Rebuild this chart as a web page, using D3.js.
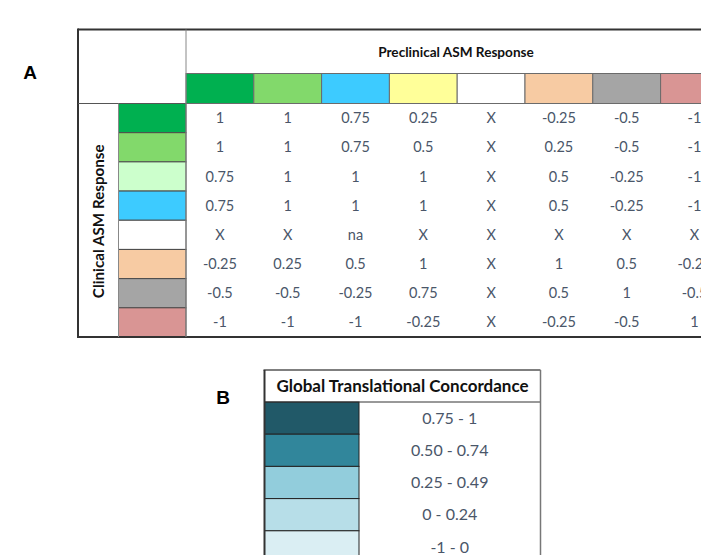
<!DOCTYPE html>
<html>
<head>
<meta charset="utf-8">
<script src="https://cdn.jsdelivr.net/npm/d3@7"></script>
<style>
  body { margin: 0; background: #fff; }
  svg { display: block; }
</style>
</head>
<body>
<div id="chart"></div>
<script>
// header swatches (preclinical, across) and row swatches (clinical, down)
const preclinColors = ["#00B050", "#82D96B", "#3DCBFF", "#FFFF99", "#FFFFFF", "#F7CBA3", "#A5A5A5", "#D99594"];
const clinColors = ["#00B050", "#82D96B", "#CCFFCC", "#3DCBFF", "#FFFFFF", "#F7CBA3", "#A5A5A5", "#D99594"];

// concordance scores, one array per clinical row
const row1 = ["1", "1", "0.75", "0.25", "X", "-0.25", "-0.5", "-1"];
const row2 = ["1", "1", "0.75", "0.5", "X", "0.25", "-0.5", "-1"];
const row3 = ["0.75", "1", "1", "1", "X", "0.5", "-0.25", "-1"];
const row4 = ["0.75", "1", "1", "1", "X", "0.5", "-0.25", "-1"];
const row5 = ["X", "X", "na", "X", "X", "X", "X", "X"];
const row6 = ["-0.25", "0.25", "0.5", "1", "X", "1", "0.5", "-0.25"];
const row7 = ["-0.5", "-0.5", "-0.25", "0.75", "X", "0.5", "1", "-0.5"];
const row8 = ["-1", "-1", "-1", "-0.25", "X", "-0.25", "-0.5", "1"];
const rows = [row1, row2, row3, row4, row5, row6, row7, row8];

// legend B
const legendRanges = ["0.75 - 1", "0.50 - 0.74", "0.25 - 0.49", "0 - 0.24", "-1 - 0"];
const legendColors = ["#215968", "#31869B", "#92CDDC", "#B7DEE8", "#DAEEF3"];

const W = 701, H = 555;
const textCol = "#4A5669";
const font = "Lato, 'Open Sans', sans-serif";

const svg = d3.select("#chart").append("svg")
  .attr("width", W).attr("height", H)
  .style("font-family", font);

// ---- panel A ----
const tLeft = 78, tTop = 29.5, rowLabX = 118.5, gridX = 186;
const hdrTop = 73.5, gridTop = 103.5, gridBottom = 337;
const colW = 67.8;

const x = d3.scaleBand().domain(d3.range(preclinColors.length))
  .range([gridX, gridX + colW * preclinColors.length]);
const y = d3.scaleBand().domain(d3.range(rows.length))
  .range([gridTop, gridBottom]);

svg.append("text").attr("x", 30).attr("y", 79)
  .attr("text-anchor", "middle")
  .style("font-family", "Arial, 'Liberation Sans', sans-serif")
  .style("font-weight", "bold").style("font-size", "19px").text("A");

// header swatches
svg.append("g").selectAll("rect").data(preclinColors).join("rect")
  .attr("x", (d, i) => x(i)).attr("y", hdrTop)
  .attr("width", x.bandwidth()).attr("height", gridTop - hdrTop)
  .attr("fill", d => d).attr("stroke", "#6b6b6b").attr("stroke-width", 1);

// row swatches
svg.append("g").selectAll("rect").data(clinColors).join("rect")
  .attr("x", rowLabX).attr("y", (d, i) => y(i))
  .attr("width", gridX - rowLabX).attr("height", y.bandwidth())
  .attr("fill", d => d).attr("stroke", "#4a4a4a").attr("stroke-width", 1);

// table lines
const lines = svg.append("g").attr("fill", "none");
lines.append("line").attr("x1", tLeft).attr("x2", W).attr("y1", tTop).attr("y2", tTop)
  .attr("stroke", "#333").attr("stroke-width", 2);
lines.append("line").attr("x1", tLeft).attr("x2", W).attr("y1", gridBottom).attr("y2", gridBottom)
  .attr("stroke", "#333").attr("stroke-width", 2);
lines.append("line").attr("x1", tLeft).attr("x2", tLeft).attr("y1", tTop - 1).attr("y2", gridBottom + 1)
  .attr("stroke", "#333").attr("stroke-width", 2);
lines.append("line").attr("x1", tLeft).attr("x2", gridX).attr("y1", gridTop).attr("y2", gridTop)
  .attr("stroke", "#555").attr("stroke-width", 1);
lines.append("line").attr("x1", gridX).attr("x2", gridX).attr("y1", tTop).attr("y2", gridBottom)
  .attr("stroke", "#888").attr("stroke-width", 1);
lines.append("line").attr("x1", rowLabX).attr("x2", rowLabX).attr("y1", gridTop).attr("y2", gridBottom)
  .attr("stroke", "#888").attr("stroke-width", 1);

svg.append("text").attr("x", 456).attr("y", 57)
  .attr("text-anchor", "middle").style("font-weight", "bold")
  .style("font-size", "13.6px").attr("fill", "#111")
  .text("Preclinical ASM Response");

svg.append("text")
  .attr("transform", `translate(${(tLeft + rowLabX) / 2 + 6},${(gridTop + gridBottom) / 2 + 1}) rotate(-90)`)
  .attr("text-anchor", "middle").style("font-weight", "bold")
  .style("font-size", "15.2px").attr("fill", "#111")
  .text("Clinical ASM Response");

// cell values
const cells = svg.append("g").selectAll("g").data(rows).join("g")
  .attr("transform", (d, i) => `translate(0,${y(i) + y.bandwidth() / 2})`);
cells.selectAll("text").data(d => d).join("text")
  .attr("x", (d, j) => x(j) + x.bandwidth() / 2)
  .attr("dy", "0.35em")
  .attr("text-anchor", "middle")
  .attr("fill", textCol).style("font-size", "14.5px")
  .text(d => d);

// ---- panel B ----
const lgLeft = 264.5, lgRight = 540.5, lgTop = 370, lgHdr = 402, lgSwR = 359, lgRowH = 32.2;

svg.append("text").attr("x", 223).attr("y", 404)
  .attr("text-anchor", "middle")
  .style("font-family", "Arial, 'Liberation Sans', sans-serif")
  .style("font-weight", "bold").style("font-size", "19px").text("B");

const ly = d3.scaleBand().domain(d3.range(legendRanges.length))
  .range([lgHdr, lgHdr + lgRowH * legendRanges.length]);

svg.append("g").selectAll("rect").data(legendColors).join("rect")
  .attr("x", lgLeft).attr("y", (d, i) => ly(i))
  .attr("width", lgSwR - lgLeft).attr("height", ly.bandwidth())
  .attr("fill", d => d).attr("stroke", "#222").attr("stroke-width", 1);

svg.append("g").selectAll("text").data(legendRanges).join("text")
  .attr("x", (lgSwR + lgRight) / 2)
  .attr("y", (d, i) => ly(i) + ly.bandwidth() / 2)
  .attr("dy", "0.35em").attr("text-anchor", "middle")
  .attr("fill", textCol).style("font-size", "16px")
  .text(d => d);

const lg = svg.append("g").attr("fill", "none");
lg.append("line").attr("x1", lgLeft - 1).attr("x2", lgRight).attr("y1", lgTop).attr("y2", lgTop)
  .attr("stroke", "#555").attr("stroke-width", 1.5);
lg.append("line").attr("x1", lgLeft).attr("x2", lgRight).attr("y1", lgHdr).attr("y2", lgHdr)
  .attr("stroke", "#333").attr("stroke-width", 1);
lg.append("line").attr("x1", lgLeft).attr("x2", lgLeft).attr("y1", lgTop).attr("y2", H)
  .attr("stroke", "#333").attr("stroke-width", 2);
lg.append("line").attr("x1", lgRight).attr("x2", lgRight).attr("y1", lgTop).attr("y2", H)
  .attr("stroke", "#777").attr("stroke-width", 1.5);

svg.append("text").attr("x", (lgLeft + lgRight) / 2).attr("y", 392)
  .attr("text-anchor", "middle").style("font-weight", "bold")
  .style("font-size", "17px").attr("fill", "#111")
  .text("Global Translational Concordance");
</script>
</body>
</html>
